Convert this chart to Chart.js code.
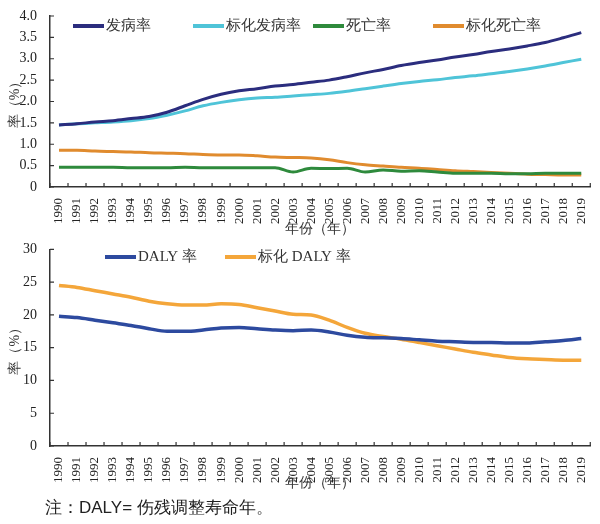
<!DOCTYPE html>
<html>
<head>
<meta charset="utf-8">
<script src="https://cdn.jsdelivr.net/npm/chart.js@4/dist/chart.umd.min.js"></script>
<style>
  body { margin: 0; background: #fff; width: 600px; height: 524px; position: relative; overflow: hidden; }
  .box { position: absolute; left: 0; width: 600px; }
  #note { position: absolute; left: 45px; top: 496px; font: 17px "Liberation Sans Narrow", "Liberation Sans", sans-serif; color: #222; }
</style>
</head>
<body>
<div class="box" style="top:0;height:240px"><canvas id="topChart"></canvas></div>
<div class="box" style="top:236px;height:258px"><canvas id="dalyChart"></canvas></div>
<div id="note">注：DALY= 伤残调整寿命年。</div>
<script>
const years = ["1990","1991","1992","1993","1994","1995","1996","1997","1998","1999",
  "2000","2001","2002","2003","2004","2005","2006","2007","2008","2009",
  "2010","2011","2012","2013","2014","2015","2016","2017","2018","2019"];

// top panel (%)
const incidence = [1.45,1.48,1.52,1.55,1.60,1.65,1.75,1.90,2.05,2.17,2.25,2.30,2.36,2.40,2.45,
  2.50,2.58,2.67,2.75,2.84,2.91,2.97,3.04,3.10,3.17,3.23,3.30,3.38,3.49,3.61];
const stdIncidence = [1.45,1.48,1.50,1.52,1.55,1.60,1.68,1.78,1.90,1.98,2.04,2.08,2.10,2.13,2.16,
  2.19,2.24,2.30,2.36,2.42,2.47,2.51,2.56,2.60,2.65,2.70,2.76,2.83,2.91,2.99];
const mortality = [0.46,0.46,0.46,0.46,0.45,0.45,0.45,0.46,0.45,0.45,0.45,0.45,0.45,0.35,0.44,
  0.43,0.44,0.35,0.40,0.37,0.38,0.35,0.32,0.32,0.32,0.31,0.31,0.32,0.32,0.32];
const stdMortality = [0.86,0.86,0.84,0.83,0.82,0.80,0.79,0.78,0.76,0.75,0.75,0.73,0.70,0.69,0.68,
  0.64,0.57,0.52,0.49,0.46,0.44,0.41,0.38,0.36,0.34,0.32,0.30,0.29,0.28,0.28];

// bottom panel (%)
const daly = [19.8,19.6,19.2,18.8,18.4,17.9,17.5,17.5,17.7,18.0,18.1,17.9,17.7,17.6,17.7,
  17.4,16.9,16.6,16.5,16.4,16.2,16.0,15.9,15.8,15.8,15.7,15.7,15.9,16.1,16.4];
const stdDaly = [24.5,24.2,23.7,23.2,22.7,22.1,21.7,21.5,21.5,21.7,21.6,21.1,20.6,20.1,20.0,
  19.2,18.1,17.2,16.7,16.3,15.8,15.3,14.8,14.3,13.9,13.5,13.3,13.2,13.1,13.1];

const serif = "'Liberation Serif', 'Times New Roman', Times, serif";
const axisColor = "#333";

Chart.defaults.font.family = serif;
Chart.defaults.color = "#222";

// legend drawn at fixed spacing like the original figure
function fixedLegend(startX, y) {
    return {
        id: "fixedLegend",
        afterDraw(chart) {
            const c = chart.ctx;
            c.save();
            c.font = "15px " + serif;
            c.textBaseline = "middle";
            chart.data.datasets.forEach((ds, i) => {
                const x = chart.chartArea.left + startX + i * 120;
                c.strokeStyle = ds.borderColor;
                c.lineWidth = 4;
                c.beginPath();
                c.moveTo(x, y);
                c.lineTo(x + 31, y);
                c.stroke();
                c.fillStyle = "#333";
                c.fillText(ds.label, x + 33, y);
            });
            c.restore();
        }
    };
}

// small tick marks pointing into the plot
const innerTicks = {
    id: "innerTicks",
    afterDraw(chart) {
        const c = chart.ctx, a = chart.chartArea;
        const xs = chart.scales.x, ys = chart.scales.y;
        c.save();
        c.strokeStyle = axisColor;
        c.lineWidth = 1.2;
        c.beginPath();
        ys.ticks.forEach(t => {
            const py = ys.getPixelForValue(t.value);
            c.moveTo(a.left, py);
            c.lineTo(a.left + 4, py);
        });
        const step = xs.getPixelForValue(1) - xs.getPixelForValue(0);
        for (let i = 0; i <= years.length; i++) {
            const px = xs.getPixelForValue(0) - step / 2 + i * step;
            c.moveTo(px, a.bottom);
            c.lineTo(px, a.bottom - 4);
        }
        c.stroke();
        c.restore();
    }
};

function makeOptions(yMax, yStep, fmt, xHeight, padTop) {
    return {
        responsive: true,
        maintainAspectRatio: false,
        animation: false,
        layout: { padding: { top: padTop, right: 8, left: 0, bottom: 0 } },
        plugins: { legend: { display: false }, tooltip: { enabled: false } },
        elements: { point: { radius: 0 }, line: { cubicInterpolationMode: "monotone" } },
        scales: {
            x: {
                offset: true,
                grid: { display: false },
                border: { display: true, color: axisColor, width: 1.5 },
                ticks: { autoSkip: false, minRotation: 90, maxRotation: 90, padding: 3,
                         color: "#222", font: { family: serif, size: 13 } },
                title: { display: true, text: "年份（年）", color: "#333",
                         padding: { top: 0, bottom: 2 }, font: { family: serif, size: 14 } },
                afterFit: s => { s.height = xHeight; }
            },
            y: {
                min: 0, max: yMax,
                grid: { display: false },
                border: { display: true, color: axisColor, width: 1.5 },
                ticks: { stepSize: yStep, padding: 5, color: "#222",
                         font: { family: serif, size: 14 }, callback: fmt },
                title: { display: true, text: "率（%）", color: "#333",
                         padding: { top: 7, bottom: 0 }, font: { family: serif, size: 14 } },
                afterFit: s => { s.width = 50; }
            }
        }
    };
}

function drawCharts() {
    new Chart(document.getElementById("topChart"), {
        type: "line",
        data: {
            labels: years,
            datasets: [
                { label: "发病率", data: incidence, borderColor: "#2b2d7e", borderWidth: 3 },
                { label: "标化发病率", data: stdIncidence, borderColor: "#4fc4d8", borderWidth: 3 },
                { label: "死亡率", data: mortality, borderColor: "#2e8a3c", borderWidth: 3 },
                { label: "标化死亡率", data: stdMortality, borderColor: "#e08b2e", borderWidth: 3 }
            ]
        },
        options: makeOptions(4, 0.5, v => v === 0 ? "0" : v.toFixed(1), 53, 16),
        plugins: [innerTicks, fixedLegend(23, 26)]
    });

    new Chart(document.getElementById("dalyChart"), {
        type: "line",
        data: {
            labels: years,
            datasets: [
                { label: "DALY 率", data: daly, borderColor: "#2d4a9f", borderWidth: 3.5 },
                { label: "标化 DALY 率", data: stdDaly, borderColor: "#f4a63a", borderWidth: 3.5 }
            ]
        },
        options: makeOptions(30, 5, v => String(v), 48, 9),
        plugins: [innerTicks, fixedLegend(55, 21)]
    });
}

// make sure the local fonts are ready before the canvas uses them
Promise.all([
    document.fonts.load("13px 'Liberation Serif'", "1990"),
    document.fonts.load("15px 'Noto Sans CJK SC'", "率发病标化死亡年份")
]).catch(() => {}).then(drawCharts);
</script>
</body>
</html>
